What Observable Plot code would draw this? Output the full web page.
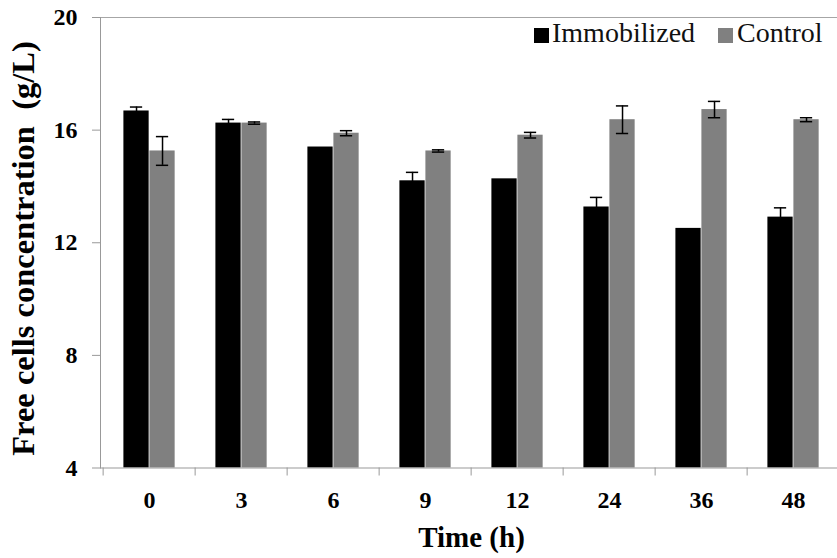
<!DOCTYPE html>
<html><head><meta charset="utf-8">
<script src="https://cdn.jsdelivr.net/npm/d3@7"></script>
<script src="https://cdn.jsdelivr.net/npm/@observablehq/plot@0.6"></script>
<style>
body{margin:0;background:#fff;overflow:hidden}
#wrap{position:relative;width:837px;height:558px}
.lg{position:absolute;font-family:'Liberation Serif','Times New Roman',serif;font-size:28px;line-height:28px;color:#111;white-space:nowrap}
.sw{position:absolute;width:15px;height:15px}
</style></head><body><div id="wrap"></div>
<script>
const times = ["0","3","6","9","12","24","36","48"];
const immobilized = [16.68,16.25,15.40,14.20,14.27,13.27,12.51,12.91];
const immobilizedErr = [0.14,0.13,0,0.30,0,0.34,0,0.33];
const control = [15.26,16.25,15.89,15.26,15.82,16.37,16.73,16.37];
const controlErr = [0.51,0.04,0.09,0.04,0.10,0.49,0.29,0.07];
const seriesNames = ["Immobilized","Control"];
const seriesColors = ["#000000","#808080"];
const yTicks = [4,8,12,16,20];
const yTitle = "Free cells concentration\u00a0 (g/L)";
const xTitle = "Time (h)";

const FONT = "Liberation Serif";
const W = 837, H = 558, mL = 100, mR = -5, mT = 17, mB = 90.5;
const step = (W - mL - mR) / times.length;
const gap = 20.4, bw = 26, cap = 13;

const imm = times.map((t, i) => ({time: t, value: immobilized[i], err: immobilizedErr[i]}));
const ctl = times.map((t, i) => ({time: t, value: control[i], err: controlErr[i]}));

function errMarks(rows, off) {
  const r = rows.filter(d => d.err > 0);
  const il = step / 2 + off - cap / 2, ir = step / 2 - off - cap / 2;
  return [
    Plot.ruleX(r, {x: "time", y1: d => d.value - d.err, y2: d => d.value + d.err, dx: off, stroke: "#000", strokeWidth: 1.5}),
    Plot.tickY(r, {x: "time", y: d => d.value + d.err, insetLeft: il, insetRight: ir, stroke: "#000", strokeWidth: 1.5}),
    Plot.tickY(r, {x: "time", y: d => d.value - d.err, insetLeft: il, insetRight: ir, stroke: "#000", strokeWidth: 1.5})
  ];
}

const chart = Plot.plot({
  width: W, height: H,
  marginLeft: mL, marginRight: mR, marginTop: mT, marginBottom: mB,
  style: {fontFamily: FONT, fontSize: "24px", fontWeight: "bold", color: "#000", background: "#fff", overflow: "visible"},
  x: {domain: times, padding: 0},
  y: {domain: [4, 20]},
  marks: [
    Plot.barY(imm, {x: "time", y1: 4, y2: "value", fill: seriesColors[0], insetLeft: gap, insetRight: step - gap - bw}),
    Plot.barY(ctl, {x: "time", y1: 4, y2: "value", fill: seriesColors[1], insetLeft: gap + bw, insetRight: step - gap - 2 * bw}),
    ...errMarks(imm, gap + bw / 2 - step / 2),
    ...errMarks(ctl, gap + 1.5 * bw - step / 2),
    Plot.frame({anchor: "top", stroke: "#a6a6a6"}),
    Plot.frame({anchor: "left", stroke: "#999"}),
    Plot.frame({anchor: "bottom", stroke: "#999"}),
    Plot.axisY({ticks: yTicks, tickSize: 8, tickPadding: 15, stroke: "#999", fill: "#000", label: null, fontFamily: FONT, fontSize: 24, fontWeight: "bold", fontVariant: "normal"}),
    Plot.axisX({tickSize: 0, tickPadding: 23, label: null, fill: "#000", fontFamily: FONT, fontSize: 24, fontWeight: "bold", fontVariant: "normal"}),
    Plot.axisX({tickSize: 8, tickFormat: () => "", dx: -step / 2, stroke: "#999", label: null}),
    Plot.text([yTitle], {text: d => d, frameAnchor: "left", dx: -77, dy: 5.75, rotate: -90, fontFamily: FONT, fontSize: 32.5, fontWeight: "bold", textAnchor: "middle", fill: "#000"}),
    Plot.text([xTitle], {text: d => d, frameAnchor: "bottom", dy: 79, fontFamily: FONT, fontSize: 29, fontWeight: "bold", textAnchor: "middle", fill: "#000"})
  ]
});
const wrap = document.getElementById("wrap");
wrap.appendChild(chart);

const legendPos = [{sw: 534, tx: 552}, {sw: 718, tx: 737}];
seriesNames.forEach((name, i) => {
  const s = document.createElement("div");
  s.className = "sw";
  s.style.left = legendPos[i].sw + "px";
  s.style.top = "27.5px";
  s.style.background = seriesColors[i];
  wrap.appendChild(s);
  const t = document.createElement("div");
  t.className = "lg";
  t.style.left = legendPos[i].tx + "px";
  t.style.top = "18.5px";
  t.textContent = name;
  wrap.appendChild(t);
});
</script></body></html>
